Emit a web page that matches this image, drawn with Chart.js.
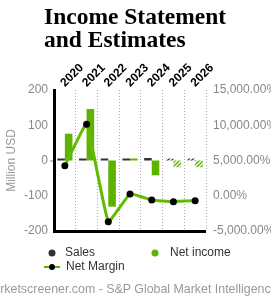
<!DOCTYPE html>
<html>
<head>
<meta charset="utf-8">
<script src="https://cdn.jsdelivr.net/npm/chart.js@4.4.1/dist/chart.umd.min.js"></script>
<style>
  html, body { margin: 0; padding: 0; background: #fff; width: 271px; height: 301px; overflow: hidden; }
  #wrap { position: relative; width: 271px; height: 301px; overflow: hidden; }
  #c { position: absolute; left: 0; top: 0; }
  #title { position: absolute; left: 44px; top: 5px; font-family: "Liberation Serif", "Times New Roman", serif; font-weight: bold; font-size: 23.5px; line-height: 23px; color: #000; white-space: nowrap; }
  #footer { position: absolute; left: -17px; top: 282px; font-family: "Liberation Sans", Arial, sans-serif; font-size: 12.4px; color: #999; white-space: nowrap; }
</style>
</head>
<body>
<div id="wrap">
  <canvas id="c" width="271" height="301"></canvas>
  <div id="title">Income Statement<br>and Estimates</div>
  <div id="footer">marketscreener.com - S&amp;P Global Market Intelligence</div>
</div>
<script>
// ---- data ----
const years = ['2020', '2021', '2022', '2023', '2024', '2025', '2026'];
const sales = [1.8, 1.4, 3.7, 1.5, 7, 2.2, 2.6];            // Million USD
const netIncome = [76, 146, -131, 4, -42, -19, -19];         // Million USD
const netMargin = [4260, 10140, -3680, 250, -600, -840, -700]; // %
const estimated = [false, false, false, false, false, true, true];
const leftTicks = [-200, -100, 0, 100, 200];
const rightTicks = [-5000, 0, 5000, 10000, 15000];

const GREEN = '#5db300';
const DARK = '#333333';

function hatch(color) {
  const c = document.createElement('canvas');
  c.width = 4; c.height = 4;
  const x = c.getContext('2d');
  x.strokeStyle = color; x.lineWidth = 1.5;
  x.beginPath();
  x.moveTo(0, 4); x.lineTo(4, 0);
  x.moveTo(-1, 1); x.lineTo(1, -1);
  x.moveTo(3, 5); x.lineTo(5, 3);
  x.stroke();
  return x.createPattern(c, 'repeat');
}
const greenHatch = hatch(GREEN);
const darkHatch = hatch(DARK);

Chart.defaults.font.family = '"Liberation Sans", Arial, sans-serif';

const legendPlugin = {
  id: 'fixedLegend',
  afterDraw(chart) {
    const ctx = chart.ctx;
    ctx.save();
    ctx.font = '12px "Liberation Sans", Arial, sans-serif';
    ctx.textBaseline = 'middle';
    const ds = chart.data.datasets;
    // Sales
    ctx.fillStyle = DARK;
    ctx.beginPath(); ctx.arc(52, 253, 3.5, 0, Math.PI * 2); ctx.fill();
    ctx.fillStyle = '#333';
    ctx.fillText(ds[0].label, 65, 253);
    // Net income
    ctx.fillStyle = GREEN;
    ctx.beginPath(); ctx.arc(155, 253, 3.5, 0, Math.PI * 2); ctx.fill();
    ctx.fillStyle = '#333';
    ctx.fillText(ds[1].label, 170, 253);
    // Net Margin
    ctx.strokeStyle = GREEN; ctx.lineWidth = 2;
    ctx.beginPath(); ctx.moveTo(44, 267); ctx.lineTo(60, 267); ctx.stroke();
    ctx.fillStyle = '#000';
    ctx.beginPath(); ctx.arc(52, 267, 3, 0, Math.PI * 2); ctx.fill();
    ctx.fillStyle = '#333';
    ctx.fillText(ds[2].label, 66, 267);
    ctx.restore();
  }
};

new Chart(document.getElementById('c'), {
  data: {
    labels: years,
    datasets: [
      {
        type: 'bar', label: 'Sales', data: sales, yAxisID: 'y', order: 2,
        backgroundColor: ctx => estimated[ctx.dataIndex] ? darkHatch : DARK,
        minBarLength: 2, categoryPercentage: 0.7, barPercentage: 1.0
      },
      {
        type: 'bar', label: 'Net income', data: netIncome, yAxisID: 'y', order: 2,
        backgroundColor: ctx => estimated[ctx.dataIndex] ? greenHatch : GREEN,
        minBarLength: 2, categoryPercentage: 0.7, barPercentage: 1.0
      },
      {
        type: 'line', label: 'Net Margin', data: netMargin, yAxisID: 'y1', order: 0,
        borderColor: '#62bb00', borderWidth: 3, tension: 0.1,
        pointRadius: 3.5, pointBackgroundColor: '#000', pointBorderColor: '#000', pointBorderWidth: 0,
        fill: false
      }
    ]
  },
  options: {
    responsive: false,
    animation: false,
    devicePixelRatio: 1,
    layout: { padding: { top: 62, bottom: 70, left: 0, right: 0 } },
    plugins: { legend: { display: false }, tooltip: { enabled: false }, title: { display: false } },
    scales: {
      x: {
        position: 'top',
        offset: true,
        afterFit: s => { s.height = 28; },
        grid: { color: '#aaa', lineWidth: 1, drawTicks: false, offset: true },
        border: { display: false, dash: [1, 2] },
        ticks: {
          color: '#000', font: { size: 12, weight: 'bold' },
          minRotation: 45, maxRotation: 45, autoSkip: false, padding: 0, labelOffset: 8
        }
      },
      y: {
        position: 'left',
        min: -200, max: 200,
        afterFit: s => { s.width = 54; },
        afterBuildTicks: s => { s.ticks = leftTicks.map(v => ({ value: v })); },
        title: { display: true, text: 'Million USD', color: '#999', font: { size: 12 }, padding: 4 },
        grid: {
          drawOnChartArea: true, drawTicks: true, tickLength: 4,
          color: c => (c.tick && c.tick.value === -200) ? '#000' : 'transparent',
          lineWidth: c => (c.tick && c.tick.value === -200) ? 3 : 0,
          tickColor: c => (c.tick && c.tick.value === 0) ? '#888' : 'transparent',
          tickWidth: 1
        },
        border: { display: true, color: '#000', width: 3 },
        ticks: { color: '#888', font: { size: 12 }, padding: 2 }
      },
      y1: {
        position: 'right',
        min: -5000, max: 15000,
        afterFit: s => { s.width = 65; },
        afterBuildTicks: s => { s.ticks = rightTicks.map(v => ({ value: v })); },
        grid: { drawOnChartArea: false, drawTicks: false },
        border: { display: false },
        ticks: {
          color: '#888', font: { size: 12 }, padding: 7,
          callback: v => v.toLocaleString('en-US', { minimumFractionDigits: 2, maximumFractionDigits: 2 }) + '%'
        }
      }
    }
  },
  plugins: [legendPlugin]
});
</script>
</body>
</html>
